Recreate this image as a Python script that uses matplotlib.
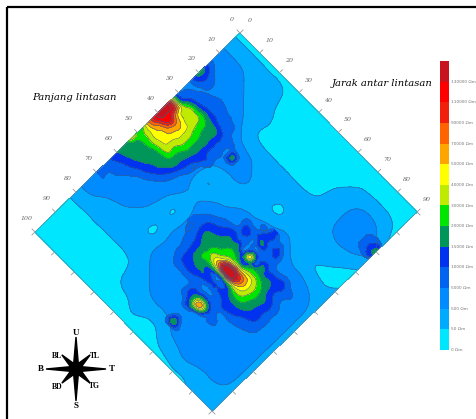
import matplotlib
matplotlib.use("Agg")
import matplotlib.pyplot as plt
import numpy as np
from matplotlib.colors import ListedColormap
from matplotlib.transforms import Affine2D
from matplotlib.tri import Triangulation, UniformTriRefiner

# survey coordinates (m)
panjang = np.arange(0, 105, 5)
jarak = np.arange(0, 95, 5)

# resistivity class per grid node, rows = panjang, columns = jarak
resistivity_class = [
    [0, 0, 0, 0, 0, 0, 0, 0, 0, 0, 0, 0, 0, 0, 0, 0, 0, 0, 0],
    [1, 1, 1, 1, 1, 1, 0, 0, 0, 0, 0, 0, 0, 0, 0, 0, 0, 0, 0],
    [2, 2, 2, 1, 1, 1, 0, 0, 0, 0, 0, 0, 0, 0, 1, 1, 1, 1, 0],
    [3, 2, 2, 2, 1, 1, 1, 0, 0, 0, 0, 0, 0, 1, 1, 2, 2, 2, 0],
    [5, 3, 2, 2, 2, 1, 0, 0, 0, 0, 0, 0, 0, 1, 1, 2, 2, 3, 5],
    [2, 2, 2, 2, 2, 2, 1, 1, 1, 1, 1, 1, 1, 1, 1, 2, 2, 2, 1],
    [2, 2, 2, 2, 2, 2, 2, 2, 1, 1, 1, 1, 1, 1, 1, 1, 1, 1, 0],
    [2, 2, 2, 2, 2, 2, 2, 2, 2, 1, 1, -1, 1, 1, 1, 1, 1, 0, 0],
    [2, 2, 2, 2, 2, 2, 1, 1, 1, 1, 1, 2, 2, 2, 1, 0, 0, 0, 1],
    [2, 2, 2, 2, 2, 2, -1, 1, 1, 2, 2, 2, 2, 2, 2, 2, 2, 1, 1],
    [2, 2, 2, 2, 2, 2, 1, 2, 2, 2, 2, 2, 2, 2, 2, 2, 2, 2, 1],
    [2, 2, 2, 2, 2, 2, 1, 2, 2, 2, 2, 2, 2, 2, 2, 2, 2, 2, 1],
    [2, 2, 2, 2, 2, 1, -1, 2, 2, 2, 2, 2, 2, 2, 2, 2, 2, 2, 1],
    [2, 2, 2, 2, 2, 1, 1, 2, 2, 2, 2, 2, 2, 2, 2, 2, 2, 2, 1],
    [2, 2, 2, 2, 1, 1, -1, 2, 2, 2, 2, 2, 2, 2, 2, 2, 2, 2, 1],
    [2, 2, 1, 1, 1, 1, 1, 2, 2, 2, 2, 2, 2, 2, 2, 2, 2, 2, 1],
    [1, 1, 1, 1, 1, 1, 1, 1, 2, 2, 2, 2, 2, 2, 2, 2, 2, 2, 1],
    [0, 0, 0, 0, 0, 0, 0, 1, 1, 2, 2, 2, 2, 2, 2, 2, 2, 2, 1],
    [0, 0, 0, 0, 0, 0, 0, 1, 1, 1, 1, 1, 2, 2, 2, 2, 2, 2, 1],
    [0, 0, 0, 0, 0, 0, 0, 0, 0, 1, 0, 0, 1, 1, 2, 1, 1, 1, 1],
    [0, 0, 0, 0, 0, 0, 0, 0, 0, 0, 0, 0, 0, 0, 0, 0, 1, 1, 1],
]

# finer survey over the upper anomaly
panjang_a = np.arange(20, 72.5, 2.5)
jarak_a = np.arange(0, 35, 2.5)
anomaly_a = [
    [2, 2, 2, 2, 2, 2, 2, 2, 2, 2, 2, 2, 2, 2],
    [2, 2, 2.2, 2.4, 2.6, 2.9, 2.7, 2.4, 2.2, 2, 2, 2, 2, 2],
    [2, 2.2, 2.6, 2.8, 3, 3.2, 3.1, 3, 2.9, 2.6, 2.2, 2, 2, 2],
    [2.2, 2.9, 3.2, 3.4, 3.7, 3.9, 3.8, 3.4, 3.1, 2.8, 2.4, 2.2, 2, 2],
    [2.9, 3.3, 4.8, 5.7, 5.8, 5.7, 5.1, 4.8, 4.3, 3.4, 3, 2.6, 2.3, 2],
    [6, 6.5, 7, 7.2, 7, 6.5, 5.6, 5, 4.5, 3.5, 3, 2.4, 4.8, 2.2],
    [12, 11.5, 8.5, 7.5, 7.2, 6.7, 5.9, 5.1, 4.5, 3.5, 3, 2.4, 2.8, 2.2],
    [13.5, 12.5, 10.9, 9.1, 8.2, 7, 6.3, 5.3, 4.5, 3.5, 2.9, 2.3, 2.1, 2],
    [13.4, 12.5, 11.5, 9.3, 8.2, 7.2, 6.3, 5.3, 4.5, 3.9, 3.2, 2.4, 2.1, 2],
    [11.5, 10.6, 9.2, 8.6, 7.8, 7, 6.1, 5.2, 4.2, 3.5, 2.4, 2.1, 2, 2],
    [9.2, 8.7, 8.3, 8, 7.6, 6.6, 5.6, 4.8, 3.9, 3, 2.2, 2, 2, 2],
    [6.4, 7, 7.2, 7.1, 6.9, 6.5, 5.5, 4.7, 3.7, 2.7, 2.1, 2, 2, 2],
    [5.8, 6, 5.9, 5.7, 5.4, 5.2, 4.9, 4.5, 3.2, 2.3, 2.1, 2, 2, 2],
    [7.5, 5.2, 5.1, 5, 4.9, 4.8, 4.5, 3.8, 2.7, 2.2, 2, 2, 2, 2],
    [5.2, 5.1, 5, 4.9, 4.6, 4.2, 3.8, 3, 2.4, 2.1, 2, 2, 2, 2],
    [5, 4.8, 4.6, 4.3, 3.9, 3.5, 2.9, 2.4, 2.1, 2, 2, 2, 2, 2],
    [4.5, 4.2, 3.9, 3.5, 3, 2.6, 2.3, 2.1, 2, 2, 2, 2, 2, 2],
    [3.7, 3.4, 3, 2.7, 2.4, 2.1, 2, 2, 2, 2, 2, 2, 2, 2],
    [3.2, 2.9, 2.7, 2.4, 2.1, 2, 2, 2, 2, 2, 2, 2, 2, 2],
    [2.9, 2.6, 2.2, 2, 2, 2, 2, 2, 2, 2, 2, 2, 2, 2],
    [3.6, 2.8, 2.1, 2, 2, 2, 2, 2, 2, 2, 2, 2, 2, 2],
]

# finer survey over the lower anomaly
panjang_b = np.arange(40, 92.5, 2.5)
jarak_b = np.arange(35, 85, 2.5)
anomaly_b = [
    [2, 2, 2, 2, 2, 2, 2, 2, 2, 2, 4, 2, 2, 2, 2, 2, 2, 2, 2, 2],
    [2, 2, 2, 2, 2, 2, 2, 2, 2, 3, 4, 3, 3, 2, 2, 2, 2, 2, 2, 2],
    [2, 2, 2, 2, 2, 2, 3, 3, 3, 4, 4, 3, 4, 3, 2, 2, 2, 2, 2, 2],
    [2, 2, 2, 2, 2, 2, 3, 4, 3, 3, 4, 3, 3, 3, 2, 2, 2, 2, 2, 2],
    [2, 2, 2, 2.4, 2.8, 3.2, 3.5, 3.2, 2.8, 2.5, 3, 3.2, 3.4, 3.3, 2.9, 3, 3.3, 2.6, 2.2, 2],
    [2, 2.3, 2.8, 3.2, 3.5, 4, 4.4, 4.3, 3.7, 3.2, 8, 3.6, 4.6, 4.2, 4, 4, 3.9, 3.2, 2.7, 2.1],
    [2.2, 2.8, 3.4, 3.9, 4.1, 4.6, 5, 5.3, 5.3, 4.3, 4, 5, 5.6, 5.3, 5, 4.5, 3.6, 3, 2.3, 2],
    [2.7, 3.1, 3.5, 4.5, 4.9, 5.2, 5.3, 5.9, 6.3, 6.4, 6.6, 7.2, 7.4, 6.8, 5.8, 4.8, 3.9, 3.2, 2.5, 2.1],
    [2.3, 2.9, 3.3, 4.2, 4.9, 5.3, 6.2, 7, 9.5, 12, 12, 10.5, 9, 7.5, 6.3, 5.2, 4.5, 3.7, 2.8, 2.2],
    [2, 2.5, 3, 3.7, 4.6, 5.5, 6.5, 8, 10.5, 13.3, 13.2, 10.5, 8.5, 7.3, 6, 5.2, 4.3, 3.6, 2.8, 2.1],
    [2, 2.3, 2.8, 3.5, 4.5, 5.4, 5.2, 4.8, 4.3, 3.6, 4.5, 5.5, 6.4, 6.3, 5.6, 4.9, 4.2, 3.6, 2.9, 2.1],
    [2, 2.1, 2.6, 3.4, 4.2, 4.6, 4.7, 4.4, 3.8, 3.2, 3.3, 3.9, 4.6, 4.9, 4.8, 4.3, 3.9, 3.5, 2.8, 2.1],
    [2, 2, 2.5, 3.3, 3.7, 3.9, 3.9, 3.6, 3.1, 2.8, 2.9, 3.3, 3.8, 3.9, 3.8, 3.5, 3.1, 2.9, 2.6, 2.1],
    [2, 2, 2, 2.7, 2.9, 3, 3, 2.9, 2.7, 2.5, 2.6, 2.9, 3.3, 3.2, 3.1, 2.9, 2.6, 2.4, 2.2, 2],
    [2, 2, 2, 2, 2, 2, 2, 3, 4, 5, 6, 4, 3, 2, 2, 2, 2, 2, 2, 2],
    [2, 2, 2, 2, 2, 2, 2, 3, 4, 7, 9, 5, 3, 3, 2, 2, 2, 2, 2, 2],
    [2, 2, 2, 2, 2, 2, 2, 2, 3, 4, 3, 2, 2, 2, 2, 2, 2, 2, 2, 2],
    [2, 2, 2, 2, 2, 2, 2, 2, 2, 2, 2, 2, 2, 2, 2, 2, 2, 2, 2, 2],
    [2, 2, 2, 2, 2, 2, 2, 2, 2, 3, 2, 2, 2, 2, 2, 2, 2, 2, 2, 2],
    [2, 2, 2, 2, 2, 2, 2, 2, 3, 5, 3, 2, 2, 2, 2, 2, 2, 2, 2, 2],
    [2, 2, 2, 2, 2, 2, 2, 2, 2, 2, 2, 2, 2, 2, 2, 2, 2, 2, 2, 2],
]

class_colors = ["#00e6ff", "#00aaff", "#008cff", "#0064f0", "#0032f0", "#00965a", "#00e600",
                "#beeb00", "#ffff00", "#ffa500", "#ff6400", "#f0200a", "#ff0000", "#c8141e"]
class_labels = ["0", "50", "500", "5000", "10000", "15000", "20000", "30000",
                "40000", "50000", "70000", "90000", "110000", "130000"]

panjang_ticks = np.arange(0, 110, 10)
jarak_ticks = np.arange(0, 100, 10)
compass_text = ["U", "S", "B", "T", "BL", "TL", "BD", "TG"]


def soften(Z):
    # rounds the staircase the coarse grid leaves in the low classes
    kernel = np.array([1, 3, 1]) / 5
    Z = np.pad(Z, 1, mode="edge")
    Z = np.apply_along_axis(lambda r: np.convolve(r, kernel, mode="same"), 0, Z)
    Z = np.apply_along_axis(lambda r: np.convolve(r, kernel, mode="same"), 1, Z)
    return Z[1:-1, 1:-1]


def draw_field(ax, xs, ys, Z, low, high, trans):
    X, Y = np.meshgrid(xs, ys)
    tri = Triangulation(X.ravel(), Y.ravel())
    fine_tri, fine_z = UniformTriRefiner(tri).refine_field(Z.ravel(), subdiv=3)
    fine_z = np.clip(fine_z, 0, 13)
    levels = np.arange(low - 0.5, high + 1, 1)
    cmap = ListedColormap(class_colors[low:high + 1])
    ax.tricontourf(fine_tri, fine_z, levels=levels, cmap=cmap, extend="neither", transform=trans)
    ax.tricontour(fine_tri, fine_z, levels=levels, colors="#35608a", linewidths=0.5, alpha=0.8, transform=trans)


fig = plt.figure(figsize=(4.77, 4.19), dpi=100)
ax = fig.add_axes([0, 0, 1, 1])
ax.set_xlim(0, 477)
ax.set_ylim(419, 0)
ax.axis("off")

# jarak goes down-right, panjang goes down-left
rot = Affine2D.from_values(1.967, 1.989, -2.05, 1.99, 240, 33) + ax.transData

base = np.array(resistivity_class, dtype=float)
draw_field(ax, jarak, panjang, soften(np.minimum(base, 2)), 0, 2, rot)
draw_field(ax, jarak, panjang, base, 3, 13, rot)
draw_field(ax, jarak_a, panjang_a, np.array(anomaly_a, dtype=float), 3, 13, rot)
draw_field(ax, jarak_b, panjang_b, np.array(anomaly_b, dtype=float), 3, 13, rot)

# diamond edge and ticks
ax.plot([0, 0, 90, 90, 0], [0, 100, 100, 0, 0], color="#5a8aa0", lw=0.5, transform=rot)
for p in panjang_ticks:
    ax.plot([-1.5, 0], [p, p], color="#999999", lw=0.6, transform=rot)
    ax.plot([90, 91.5], [p, p], color="#999999", lw=0.6, transform=rot)
    ax.annotate(str(p), (0, p), xycoords=rot, xytext=(-6, 10), textcoords="offset points",
                fontsize=4.5, color="#666666", family="DejaVu Serif", style="italic", ha="center", va="center")
for j in jarak_ticks:
    ax.plot([j, j], [-1.5, 0], color="#999999", lw=0.6, transform=rot)
    ax.plot([j, j], [100, 101.5], color="#999999", lw=0.6, transform=rot)
    ax.annotate(str(j), (j, 0), xycoords=rot, xytext=(7, 9), textcoords="offset points",
                fontsize=4.5, color="#666666", family="DejaVu Serif", style="italic", ha="center", va="center")

ax.text(74, 97, "Panjang lintasan", fontsize=7.2, family="DejaVu Serif", style="italic", ha="center", va="center")
ax.text(382, 83, "Jarak antar lintasan", fontsize=7.2, family="DejaVu Serif", style="italic", ha="center", va="center")

# frame, only left and top show
ax.plot([7, 7], [419, 7], color="black", lw=1.6, solid_capstyle="butt")
ax.plot([7, 477], [7, 7], color="black", lw=1.6, solid_capstyle="butt")

# colour scale
cax = fig.add_axes([440 / 477, 1 - 350 / 419, 9 / 477, 289 / 419])
cax.bar(np.zeros(14), np.ones(14), bottom=np.arange(14), width=1, color=class_colors)
cax.set_xlim(-0.5, 0.5)
cax.set_ylim(0, 14)
cax.axis("off")
for i, lab in enumerate(class_labels):
    ax.text(451, 350 - i * 289 / 14, lab + " Ωm", fontsize=3.1, color="#777777", ha="left", va="center")

# compass
cx, cy = 76, 369
angles = np.arange(16) * np.pi / 8
radii = np.array([30, 6, 20, 6, 32, 6, 20, 6, 30, 6, 20, 6, 32, 6, 20, 6])
ax.fill(cx + radii * np.cos(angles), cy + radii * np.sin(angles), color="black")
compass_x = [76, 76, 41, 112, 57, 95, 57, 94]
compass_y = [333, 406, 369, 369, 356, 356, 387, 386]
for t, x, y in zip(compass_text, compass_x, compass_y):
    ax.text(x, y, t, fontsize=6.5 if len(t) == 1 else 5.5, family="Liberation Serif", weight="bold",
            ha="center", va="center")

fig.savefig("out.png", dpi=100)
